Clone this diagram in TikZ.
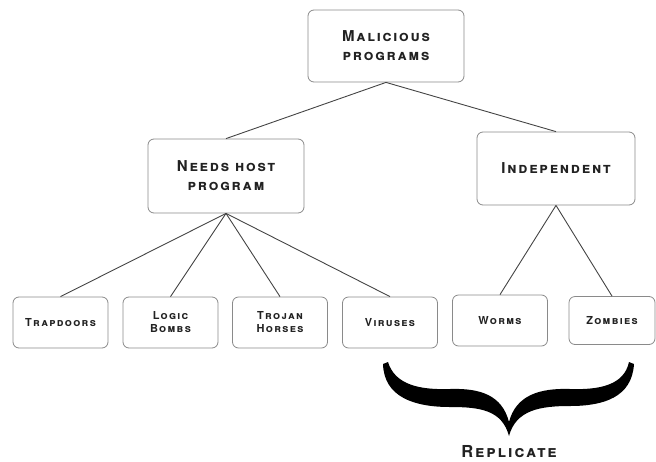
\documentclass[tikz,border=0pt]{standalone}
\usepackage{fontspec}
\setmainfont[LetterSpace=12]{TeX Gyre Heros}
\definecolor{boxgray}{HTML}{8A8A8A}
\definecolor{linegray}{HTML}{444444}
\definecolor{textgray}{HTML}{222222}
\newcommand\bigsc{\fontsize{15}{19}\selectfont\bfseries\scshape}
\newcommand\smallsc{\fontsize{11}{13}\selectfont\bfseries\scshape}
\tikzset{
  box/.style={draw=boxgray, line width=0.8pt, rounded corners=6pt, fill=white,
    align=center, inner sep=0pt, text=textgray},
  upperbox/.style={box, minimum width=156pt, minimum height=72pt, font=\bigsc},
  leafbox/.style={box, minimum width=95pt, minimum height=51pt, font=\smallsc},
  link/.style={draw=linegray, line width=0.9pt}
}
\begin{document}
\begin{tikzpicture}[x=1pt, y=-1pt]
    \useasboundingbox (0,0) rectangle (656,461);
    % top and middle level
    \node[upperbox] (malicious) at (386, 46) {Malicious\\programs};
    \node[upperbox, minimum height=74pt] (needshost) at (226, 176) {Needs host\\program};
    \node[upperbox, minimum width=158pt, minimum height=73pt] (independent) at (556, 168.5) {Independent};
    % leaves
    \node[leafbox] (trapdoors) at (60.5, 322.5) {Trapdoors};
    \node[leafbox] (logicbombs) at (170.5, 322.5) {Logic\\Bombs};
    \node[leafbox] (trojanhorses) at (280, 322.5) {Trojan\\Horses};
    \node[leafbox] (viruses) at (390, 322.5) {Viruses};
    \node[leafbox] (worms) at (500, 320.5) {Worms};
    \node[leafbox, minimum width=86pt, minimum height=48pt] (zombies) at (612, 320.5) {Zombies};
    % links
    \draw[link] (malicious.south) -- (needshost.north);
    \draw[link] (malicious.south) -- (independent.north);
    \foreach \leaf in {trapdoors, logicbombs, trojanhorses, viruses}
        \draw[link] (needshost.south) -- (\leaf.north);
    \draw[link] (independent.south) -- (worms.north);
    \draw[link] (independent.south) -- (zombies.north);
    % brace
    \fill[black] (388,362) .. controls (395,385) and (420,390) .. (450,389)
        .. controls (480,388) and (502,395) .. (509,422)
        .. controls (516,395) and (540,388) .. (570,389)
        .. controls (600,390) and (624,385) .. (629,362)
        -- (634,364) .. controls (632,397) and (604,406) .. (570,406)
        .. controls (540,406) and (516,410) .. (509,436)
        .. controls (502,410) and (480,407) .. (450,407)
        .. controls (414,407) and (384,397) .. (383,364) -- cycle;
    \node[font=\fontsize{16.5}{18}\selectfont\bfseries\scshape, text=textgray, inner sep=1pt] (replicate) at (509, 452) {Replicate};
\end{tikzpicture}
\end{document}
